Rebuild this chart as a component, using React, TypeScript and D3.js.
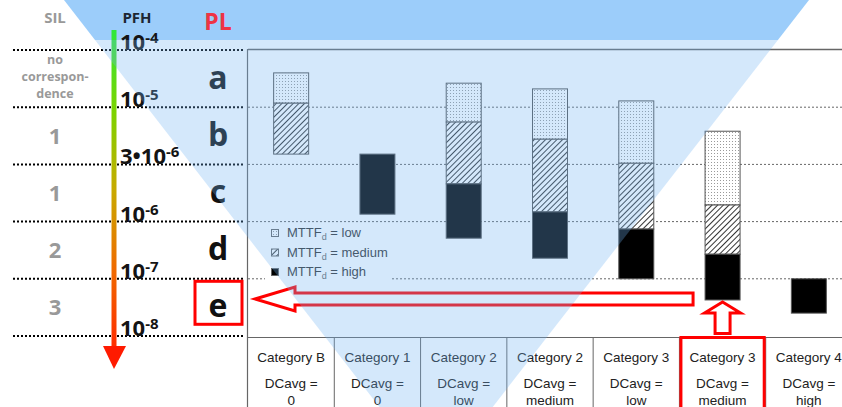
import React from 'react';
import * as d3 from 'd3';

// PL bands from top (a) to bottom (e); bar extents are in band units (0 = 10^-4, 5 = 10^-8)
const plLevels = ['a', 'b', 'c', 'd', 'e'];
const silLabels = [['no', 'correspon-', 'dence'], ['1'], ['1'], ['2'], ['3']];
const pfhBase = ['10', '10', '3•10', '10', '10', '10'];
const pfhExp = ['-4', '-5', '-6', '-6', '-7', '-8'];

const categories = ['Category B', 'Category 1', 'Category 2', 'Category 2', 'Category 3', 'Category 3', 'Category 4'];
const dcAvg = ['0', '0', 'low', 'medium', 'low', 'medium', 'high'];

type Span = [number, number] | null;
const mttfLow: Span[] = [[0.4, 0.93], null, [0.58, 1.26], [0.68, 1.56], [0.89, 1.98], [1.42, 2.71], null];
const mttfMedium: Span[] = [[0.93, 1.82], null, [1.26, 2.34], [1.56, 2.83], [1.98, 3.13], [2.71, 3.57], null];
const mttfHigh: Span[] = [null, [1.82, 2.87], [2.34, 3.29], [2.83, 3.64], [3.13, 4.0], [3.57, 4.37], [4.0, 4.6]];

const legendLabels = ['low', 'medium', 'high'];
const highlightCol = 5;
const highlightPL = 4;

const W = 842;
const H = 407;
const plotLeft = 248;
const heavy = "'Open Sans', 'DejaVu Sans', sans-serif";
const arial = "'Liberation Sans', Arial, sans-serif";

export default function App() {
  const y = d3.scaleLinear().domain([0, 5]).range([50, 336]);
  const x = d3.scaleBand<number>().domain(d3.range(categories.length)).range([plotLeft, 852]);
  const bw = x.bandwidth();
  const barW = 35;
  const tableTop = y(5) + 1.5;

  const fills = ['url(#pLow)', 'url(#pMed)', '#000'];
  const series = [mttfLow, mttfMedium, mttfHigh];

  // arrows anchored to the highlighted bar
  const hx = x(highlightCol)! + bw / 2;
  const hBottom = y(mttfHigh[highlightCol]![1]);
  const tipX = plotLeft + 7;
  const cy = hBottom - 1;
  const shaftEnd = hx - barW / 2 - 12;
  const leftArrow = [
    [tipX, cy], [tipX + 40, cy - 12], [tipX + 40, cy - 6], [shaftEnd, cy - 6],
    [shaftEnd, cy + 6], [tipX + 40, cy + 6], [tipX + 40, cy + 12],
  ];
  const upArrow = [
    [hx, hBottom + 2], [hx + 18, hBottom + 13], [hx + 7.5, hBottom + 13], [hx + 7.5, tableTop - 4],
    [hx - 7.5, tableTop - 4], [hx - 7.5, hBottom + 13], [hx - 18, hBottom + 13],
  ];
  const pts = (p: number[][]) => p.map(d => d.join(',')).join(' ');

  const tri = '64,0 809,0 436,480';

  return (
    <svg width={W} height={H} style={{ position: 'absolute', left: 0, top: 0, background: '#fff' }}>
      <defs>
        <pattern id="pLow" width="3" height="3" patternUnits="userSpaceOnUse">
          <rect width="3" height="3" fill="#fff" />
          <rect width="1" height="1" fill="#9a9a9a" />
        </pattern>
        <pattern id="pMed" width="4" height="4" patternUnits="userSpaceOnUse" patternTransform="rotate(45)">
          <rect width="4" height="4" fill="#fff" />
          <line x1="0" y1="0" x2="0" y2="4" stroke="#000" strokeWidth="1.6" />
        </pattern>
        <linearGradient id="pfhGrad" gradientUnits="userSpaceOnUse" x1="0" y1="30" x2="0" y2="350">
          <stop offset="0" stopColor="#2ee83a" />
          <stop offset="0.25" stopColor="#7ad400" />
          <stop offset="0.5" stopColor="#c8aa00" />
          <stop offset="0.75" stopColor="#f06a00" />
          <stop offset="1" stopColor="#ff2a00" />
        </linearGradient>
        <clipPath id="topBand"><rect x="0" y="0" width={W} height="40" /></clipPath>
        <clipPath id="lowBand"><rect x="0" y="40" width={W} height={H} /></clipPath>
      </defs>

      <polygon points={tri} fill="#9ccdfa" clipPath="url(#topBand)" />

      {/* left dotted band lines */}
      {d3.range(6).map(i => (
        <line key={'dl' + i} x1={13} x2={plotLeft - 4} y1={y(i)} y2={y(i)}
          stroke="#000" strokeWidth={2} strokeDasharray="2,2" />
      ))}
      {/* plot grid */}
      {d3.range(1, 5).map(i => (
        <line key={'g' + i} x1={plotLeft} x2={W} y1={y(i)} y2={y(i)}
          stroke="#666" strokeWidth={1} strokeDasharray="2,2" />
      ))}
      <line x1={plotLeft} x2={W} y1={y(0) - 0.5} y2={y(0) - 0.5} stroke="#666" strokeWidth={1.5} />
      <line x1={plotLeft - 0.5} x2={plotLeft - 0.5} y1={y(0) - 1} y2={H} stroke="#666" strokeWidth={1.2} />

      {/* bars */}
      {series.map((s, k) => s.map((d, i) => d && (
        <rect key={`b${k}-${i}`} x={x(i)! + (bw - barW) / 2} y={y(d[0])} width={barW} height={y(d[1]) - y(d[0])}
          fill={fills[k]} stroke="#555" strokeWidth={1} />
      )))}

      {/* legend */}
      <rect x={265} y={224} width={127} height={58} fill="#fff" />
      {legendLabels.map((l, k) => {
        const by = 237 + k * 19.5;
        return (
          <g key={'lg' + l}>
            <rect x={271.5} y={by - 7.5} width={7} height={7} fill={fills[k]} stroke="#666" strokeWidth={1} />
            <text x={287} y={by} fontFamily={arial} fontSize={13} fill="#333">
              MTTF<tspan fontSize={9} dy={3} fill="#666">d</tspan><tspan dy={-3}> = {l}</tspan>
            </text>
          </g>
        );
      })}

      {/* table */}
      <line x1={plotLeft} x2={W} y1={tableTop} y2={tableTop} stroke="#666" strokeWidth={1} />
      {categories.map((c, i) => (
        <g key={'t' + i}>
          {i > 0 && <line x1={x(i)!} x2={x(i)!} y1={tableTop} y2={H} stroke="#666" strokeWidth={1} />}
          <text x={x(i)! + bw / 2} y={362} textAnchor="middle" fontFamily={arial} fontSize={13.5} fill="#222">{c}</text>
          <text x={x(i)! + bw / 2} y={388} textAnchor="middle" fontFamily={arial} fontSize={13.5} fill="#222">DCavg =</text>
          <text x={x(i)! + bw / 2} y={405} textAnchor="middle" fontFamily={arial} fontSize={13.5} fill="#222">{dcAvg[i]}</text>
        </g>
      ))}
      <rect x={x(highlightCol)! + 1.5} y={tableTop} width={bw - 3} height={H} fill="none" stroke="#ff0000" strokeWidth={3} />

      {/* headers */}
      <text x={55} y={23} textAnchor="middle" fontFamily={heavy} fontWeight="bold" fontSize={15} fill="#999">SIL</text>
      <text x={137} y={23} textAnchor="middle" fontFamily={heavy} fontWeight="bold" fontSize={15} fill="#1c2632">PFH</text>
      <text x={218} y={30} textAnchor="middle" fontFamily={heavy} fontWeight="bold" fontSize={23} fill="#ee3344">PL</text>

      {/* SIL labels */}
      {silLabels.map((lines, i) => {
        const c = (y(i) + y(i + 1)) / 2;
        if (lines.length > 1) {
          return lines.map((t, j) => (
            <text key={`s${i}-${j}`} x={55} y={c - 14.5 + j * 17} textAnchor="middle" fontFamily={heavy}
              fontWeight="bold" fontSize={12.5} fill="#999">{t}</text>
          ));
        }
        return (
          <text key={'s' + i} x={55} y={c + 8} textAnchor="middle" fontFamily={heavy} fontWeight="bold"
            fontSize={22} fill="#999">{lines[0]}</text>
        );
      })}

      {/* PFH arrow */}
      <line x1={114} x2={114} y1={30} y2={348} stroke="url(#pfhGrad)" strokeWidth={5} />
      <polygon points="103,346 126,346 114,369" fill="#ff1a00" />

      {/* PFH ticks */}
      {pfhBase.map((b, i) => (
        <text key={'p' + i} x={120} y={y(i)} fontFamily={heavy} fontWeight="bold" fontSize={22} fill="#141414">
          {b}<tspan dy={-7} fontSize={15}>{pfhExp[i]}</tspan>
        </text>
      ))}

      {/* PL letters */}
      {plLevels.map((l, i) => (
        <text key={'l' + i} x={218} y={(y(i) + y(i + 1)) / 2 + 10} textAnchor="middle" fontFamily={heavy}
          fontWeight="bold" fontSize={32} fill="#111">{l}</text>
      ))}
      <rect x={195} y={y(highlightPL) + 2.5} width={47} height={43} fill="none" stroke="#ff0000" strokeWidth={3} />

      {/* red arrows */}
      <polygon points={pts(leftArrow)} fill="none" stroke="#ff0000" strokeWidth={3} />
      <polygon points={pts(upArrow)} fill="#fff" stroke="#ff0000" strokeWidth={3} />

      <polygon points={tri} fill="#70b4f2" opacity={0.3} clipPath="url(#lowBand)" />
    </svg>
  );
}
